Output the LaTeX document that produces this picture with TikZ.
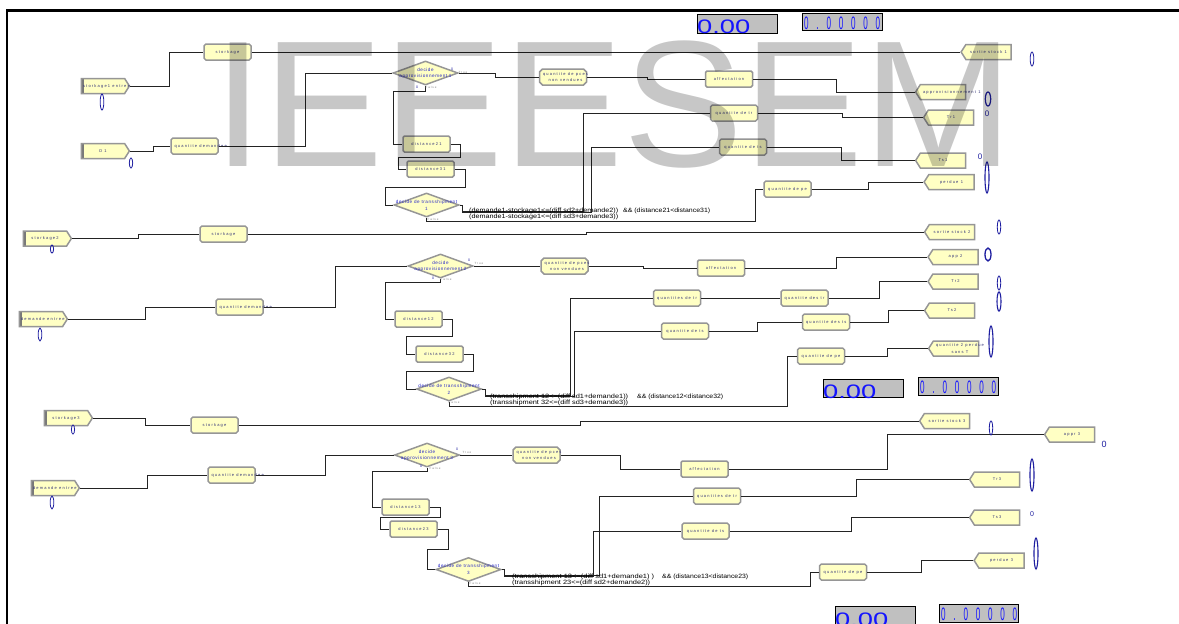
\documentclass[tikz,border=0pt]{standalone}
\usepackage{fontspec}
\setmainfont{Liberation Sans}
\newfontfamily\modf[LetterSpace=30]{Liberation Sans}
\newfontfamily\decf[LetterSpace=12]{Liberation Sans}
\newfontfamily\dispf[FakeStretch=0.45]{Liberation Sans}
\usetikzlibrary{shapes.misc,shapes.symbols,shapes.geometric}
\definecolor{modfill}{RGB}{255,255,196}
\definecolor{modedge}{RGB}{150,150,150}
\definecolor{modtext}{RGB}{50,50,120}
\definecolor{dectext}{RGB}{40,40,200}
\definecolor{cntblue}{RGB}{30,30,160}
\definecolor{dispgray}{RGB}{192,192,192}
\definecolor{dispblue}{RGB}{20,20,255}
\definecolor{linecol}{RGB}{35,35,35}
\newcommand\lbl[1]{\makebox[0pt]{\makebox[40pt][l]{\hfill#1\hfill}}}
\newcommand\dlbl[1]{\makebox[0pt]{\shortstack{#1}}}
\newcommand\cond[2]{\resizebox{#1}{4.5pt}{#2}}
\newcommand\bigzero{\scalebox{1.4}[1]{\fontsize{19.5}{19.5}\selectfont 0.00}}
\newcommand\smallzero{\makebox[76pt][s]{\dispf\fontsize{18}{18}\selectfont 0\hfill.\hfill0\hfill0\hfill0\hfill0\hfill0}}
\tikzset{
 mod/.style={fill=modfill, draw=modedge, line width=1.5pt, inner sep=0pt, text=modtext, font=\modf\fontsize{4}{4.6}\selectfont},
 procbox/.style={mod, chamfered rectangle, chamfered rectangle xsep=3pt, minimum width=47pt, minimum height=16pt},
 createbox/.style={mod, signal, signal to=east, signal pointer angle=115, minimum width=48pt, minimum height=15pt,
   path picture={\fill[modedge!80!black] (path picture bounding box.south west) rectangle ([xshift=2.5pt]path picture bounding box.north west);}},
 disposebox/.style={mod, signal, signal to=west, signal pointer angle=115, minimum width=50pt, minimum height=15pt},
 decidebox/.style={mod, diamond, minimum width=65pt, minimum height=24pt, text=dectext, font=\decf\fontsize{4.6}{5.2}\selectfont},
 conn/.style={draw=linecol, line width=0.7pt},
 cnt/.style={draw=cntblue, line width=0.8pt},
 tf/.style={text=gray, font=\modf\fontsize{3}{3}\selectfont, inner sep=0pt},
 zero/.style={text=cntblue, inner sep=0pt},
 disp/.style={fill=dispgray, draw=black, line width=0.8pt},
 disptxt/.style={text=dispblue, inner sep=0pt, anchor=base west},
 condtxt/.style={anchor=base west, inner sep=0pt, text=black},
}
\begin{document}
\begin{tikzpicture}[x=1pt,y=-1pt]
\useasboundingbox (0,0) rectangle (1179,624);
\fill[white] (0,0) rectangle (1179,624);
\draw[line width=2.5pt] (7,625) -- (7,10.5) -- (1180,10.5);

% ---------------- displays ----------------
\draw[disp] (697,14) rectangle (777,33);
\node[disptxt] (v1) at (697,33.5) {\bigzero};
\draw[disp] (802,13) rectangle (882,30);
\node[disptxt] (w1) at (804,29) {\smallzero};
\draw[disp] (823,379) rectangle (903,397);
\node[disptxt] (v2) at (823,398) {\bigzero};
\draw[disp] (918,377) rectangle (998,395);
\node[disptxt] (w2) at (920,393) {\smallzero};
\draw[disp] (835,606) rectangle (915,626);
\node[disptxt] (v3) at (835,626) {\bigzero};
\draw[disp] (939,604) rectangle (1018,622);
\node[disptxt] (w3) at (941,620) {\smallzero};

% ---------------- section 1 ----------------
\node[createbox] (cr1) at (103,86) {\lbl{storkage1 entree}};
\node[procbox] (p1s) at (227.5,52) {\lbl{storkage}};
\node[createbox] (cD1) at (103,151) {\lbl{D 1}};
\node[procbox] (p1q) at (194.5,146) {\lbl{quantite demandee}};
\node[decidebox] (d1a) at (425.5,73) {\dlbl{decide\\approvisionnement 1}};
\node[procbox] (p1nv) at (563,77) {\lbl{\shortstack{quantite de pces\\non vendues}}};
\node[procbox] (p1af) at (729,79) {\lbl{affectation}};
\node[disposebox] (x1ap) at (943,92) {\lbl{approvisionnement 1}};
\node[procbox] (p1d21) at (426.5,144) {\lbl{distance21}};
\node[procbox] (p1d31) at (430.5,169) {\lbl{distance31}};
\node[decidebox] (d1t) at (426.5,205) {\dlbl{decide de transshipment\\1}};
\node[procbox] (p1q2) at (734,113) {\lbl{quantite de tr}};
\node[procbox] (p1q3) at (743,147) {\lbl{quantite de ts}};
\node[procbox] (p1q4) at (787.5,189) {\lbl{quantite de pe}};
\node[disposebox] (x1so) at (988.5,52) {\lbl{sortie stock 1}};
\node[disposebox] (x1t1) at (951,117.5) {\lbl{Tr1}};
\node[disposebox] (x1t2) at (943,160.5) {\lbl{Ts1}};
\node[disposebox] (x1pd) at (951.5,182) {\lbl{perdue 1}};

\draw[conn] (cr1.east) -- ++(39,0) |- (p1s.west);
\draw[conn] (p1s.east) -- (x1so.west);
\draw[conn] (cD1.east) -- ++(23,0) |- (p1q.west);
\draw[conn] (p1q.east) -- ++(87,0) |- (d1a.west);
\draw[conn] (d1a.east) -- ++(37,0) |- (p1nv.west);
\draw[conn] (p1nv.east) -- ++(60,0) |- (p1af.west);
\draw[conn] (p1af.east) -- ++(83,0) |- (x1ap.west);
\draw[conn] (d1a.south) -- ++(0,6) -- ++(-32,0) |- (p1d21.west);
\draw[conn] (p1d21.east) -- ++(10,0) -- ++(0,13) -- ++(-62,0) |- (p1d31.west);
\draw[conn] (p1d31.east) -- ++(11,0) -- ++(0,18) -- ++(-80,0) |- (d1t.west);
\draw[conn] (d1t.east) -- ++(3,0) -- ++(0,6) -- ++(121,0) |- (p1q2.west);
\draw[conn] (d1t.east) -- ++(3,0) -- ++(0,7) -- ++(129,0) |- (p1q3.west);
\draw[conn] (d1t.south) -- ++(0,4) -- ++(329,0) |- (p1q4.west);
\draw[conn] (p1q2.east) -- ++(84,0) |- (x1t1.west);
\draw[conn] (p1q3.east) -- ++(74,0) |- (x1t2.west);
\draw[conn] (p1q4.east) -- ++(57,0) |- (x1pd.west);

\node[condtxt] (k1a) at (469,212.5) {\cond{149pt}{(demande1-stockage1<=(diff sd2+demande2))}};
\node[condtxt] (k1b) at (623,212.5) {\cond{87pt}{\&\& (distance21<distance31)}};
\node[condtxt] (k1c) at (469,218.5) {\cond{149pt}{(demande1-stockage1<=(diff sd3+demande3))}};

\node[tf] (t1a) at (463,72) {True};
\node[zero, font=\fontsize{3.5}{3.5}\selectfont] (z1a) at (452,69) {0};
\node[tf] (f1a) at (431,87.5) {False};
\node[zero, font=\fontsize{3.5}{3.5}\selectfont] (z1b) at (417,87) {0};
\node[tf] (f1t) at (433,219.5) {False};

\draw[cnt] (102,102) ellipse (1.8 and 8);
\draw[cnt] (131,163) ellipse (1.7 and 5);
\draw[cnt] (1032,59) ellipse (1.8 and 7);
\draw[cnt, line width=1.2pt] (988,99) ellipse (2.7 and 7);
\node[zero, font=\fontsize{8}{8}\selectfont] (z1c) at (987,114) {0};
\node[zero, font=\fontsize{8}{8}\selectfont] (z1d) at (980,157) {0};
\draw[cnt, line width=1.1pt] (987,177.5) ellipse (2 and 15.5);

% ---------------- section 2 ----------------
\node[createbox] (cr2) at (45,238.5) {\lbl{storkage2}};
\node[procbox] (p2s) at (223.5,234) {\lbl{storkage}};
\node[disposebox] (x2so) at (952,232) {\lbl{sortie stock 2}};
\node[createbox] (cr2d) at (41,319) {\lbl{demande entree}};
\node[procbox] (p2q) at (239.5,307) {\lbl{quantite demandee}};
\node[decidebox] (d2a) at (440.5,266) {\dlbl{decide\\approvisionnement 2}};
\node[procbox] (p2nv) at (564.5,266) {\lbl{\shortstack{quantite de pces\\non vendues}}};
\node[procbox] (p2af) at (721,268) {\lbl{affectation}};
\node[disposebox] (x2ap) at (955.5,257) {\lbl{app 2}};
\node[procbox] (p2d12) at (418.5,319) {\lbl{distance12}};
\node[procbox] (p2d32) at (439.5,354) {\lbl{distance32}};
\node[decidebox] (d2t) at (449,389) {\dlbl{decide de transshipment\\2}};
\node[procbox] (p2qa) at (677,298) {\lbl{quantites de tr}};
\node[procbox] (p2qb) at (685,331) {\lbl{quantite de ts}};
\node[procbox] (p2qc) at (821,356) {\lbl{quantite de pe}};
\node[procbox] (p2qd) at (804.5,298) {\lbl{quantite des tr}};
\node[procbox] (p2qe) at (826,322) {\lbl{quantite des ts}};
\node[disposebox] (x2t1) at (955.5,281.5) {\lbl{Tr2}};
\node[disposebox] (x2t2) at (952,310.5) {\lbl{Ts2}};
\node[disposebox] (x2pd) at (956,348.5) {\lbl{\shortstack{quantite 2 perdue\\sans T}}};

\draw[conn] (cr2.east) -- ++(66,0) |- (p2s.west);
\draw[conn] (p2s.east) -- ++(339,0) |- (x2so.west);
\draw[conn] (cr2d.east) -- ++(77,0) |- (p2q.west);
\draw[conn] (p2q.east) -- ++(72,0) |- (d2a.west);
\draw[conn] (d2a.east) -- (p2nv.west);
\draw[conn] (p2nv.east) -- ++(55,0) |- (p2af.west);
\draw[conn] (p2af.east) -- ++(91,0) |- (x2ap.west);
\draw[conn] (d2a.south) -- ++(0,4) -- ++(-55,0) |- (p2d12.west);
\draw[conn] (p2d12.east) -- ++(10,0) -- ++(0,17) -- ++(-46,0) |- (p2d32.west);
\draw[conn] (p2d32.east) -- ++(10,0) -- ++(0,17) -- ++(-67,0) |- (d2t.west);
\draw[conn] (d2t.east) -- ++(3,0) -- ++(0,6) -- ++(85,0) |- (p2qa.west);
\draw[conn] (d2t.east) -- ++(3,0) -- ++(0,7) -- ++(89,0) |- (p2qb.west);
\draw[conn] (d2t.south) -- ++(0,5) -- ++(338,0) |- (p2qc.west);
\draw[conn] (p2qa.east) -- (p2qd.west);
\draw[conn] (p2qb.east) -- ++(48,0) |- (p2qe.west);
\draw[conn] (p2qd.east) -- ++(51,0) |- (x2t1.west);
\draw[conn] (p2qe.east) -- ++(38,0) |- (x2t2.west);
\draw[conn] (p2qc.east) -- ++(42,0) |- (x2pd.west);

\node[condtxt] (k2a) at (490,398.5) {\cond{138pt}{(transshipment 12<=(diff sd1+demande1))}};
\node[condtxt] (k2b) at (637,398.5) {\cond{86pt}{\&\& (distance12<distance32)}};
\node[condtxt] (k2c) at (490,404.5) {\cond{138pt}{(transshipment 32<=(diff sd3+demande3))}};

\node[tf] (t2a) at (479,263) {True};
\node[zero, font=\fontsize{3.5}{3.5}\selectfont] (z2a) at (469,260) {0};
\node[tf] (f2a) at (446,279) {False};
\node[zero, font=\fontsize{3.5}{3.5}\selectfont] (z2b) at (433,278) {0};
\node[tf] (f2t) at (454,402) {False};

\draw[cnt] (52,249) ellipse (1.6 and 4);
\draw[cnt] (40,334.5) ellipse (1.8 and 6.5);
\draw[cnt] (999,227) ellipse (1.7 and 7);
\draw[cnt, line width=1.3pt] (988,254.5) ellipse (3 and 6.5);
\draw[cnt] (999,283) ellipse (1.7 and 7);
\draw[cnt, line width=1.1pt] (999,301.5) ellipse (2 and 9.5);
\draw[cnt, line width=1.1pt] (991,341.5) ellipse (2 and 15.5);

% ---------------- section 3 ----------------
\node[createbox] (cr3) at (66,418) {\lbl{storkage3}};
\node[procbox] (p3s) at (214.5,425) {\lbl{storkage}};
\node[disposebox] (x3so) at (947,421) {\lbl{sortie stock 3}};
\node[createbox] (cr3d) at (53,488) {\lbl{demande entree}};
\node[procbox] (p3q) at (231.5,475) {\lbl{quantite demandee}};
\node[decidebox] (d3a) at (427,455) {\dlbl{decide\\approvisionnement 3}};
\node[procbox] (p3nv) at (536.5,455) {\lbl{\shortstack{quantite de pces\\non vendues}}};
\node[procbox] (p3af) at (704.5,469) {\lbl{affectation}};
\node[disposebox] (x3ap) at (1072,434.5) {\lbl{appr 3}};
\node[procbox] (p3d13) at (405.5,507) {\lbl{distance13}};
\node[procbox] (p3d23) at (413.5,529) {\lbl{distance23}};
\node[decidebox] (d3t) at (468.5,569.5) {\dlbl{decide de transshipment\\3}};
\node[procbox] (p3qa) at (717,496) {\lbl{quantites de tr}};
\node[procbox] (p3qb) at (705.5,531) {\lbl{quantite de ts}};
\node[procbox] (p3qc) at (843,572) {\lbl{quantite de pe}};
\node[disposebox] (x3t1) at (997,479.5) {\lbl{Tr3}};
\node[disposebox] (x3t2) at (997,517.5) {\lbl{Ts3}};
\node[disposebox] (x3pd) at (1001.5,560.5) {\lbl{perdue 3}};

\draw[conn] (cr3.east) -- ++(52,0) |- (p3s.west);
\draw[conn] (p3s.east) -- ++(342,0) |- (x3so.west);
\draw[conn] (cr3d.east) -- ++(67,0) |- (p3q.west);
\draw[conn] (p3q.east) -- ++(70,0) |- (d3a.west);
\draw[conn] (d3a.east) -- (p3nv.west);
\draw[conn] (p3nv.east) -- ++(60,0) |- (p3af.west);
\draw[conn] (p3af.east) -- ++(159,0) |- (x3ap.west);
\draw[conn] (d3a.south) -- ++(0,4) -- ++(-55,0) |- (p3d13.west);
\draw[conn] (p3d13.east) -- ++(11,0) -- ++(0,10) -- ++(-60,0) |- (p3d23.west);
\draw[conn] (p3d23.east) -- ++(11,0) -- ++(0,20) -- ++(-21,0) |- (d3t.west);
\draw[conn] (d3t.east) -- ++(3,0) -- ++(0,6) -- ++(95,0) |- (p3qa.west);
\draw[conn] (d3t.east) -- ++(3,0) -- ++(0,7) -- ++(89,0) |- (p3qb.west);
\draw[conn] (d3t.south) -- ++(0,4) -- ++(342,0) |- (p3qc.west);
\draw[conn] (p3qa.east) -- ++(115,0) |- (x3t1.west);
\draw[conn] (p3qb.east) -- ++(122,0) |- (x3t2.west);
\draw[conn] (p3qc.east) -- ++(54,0) |- (x3pd.west);

\node[condtxt] (k3a) at (512,578.5) {\cond{142pt}{(transshipment 13<=(diff sd1+demande1) )}};
\node[condtxt] (k3b) at (662,578.5) {\cond{86pt}{\&\& (distance13<distance23)}};
\node[condtxt] (k3c) at (512,584.5) {\cond{138pt}{(transshipment 23<=(diff sd2+demande2))}};

\node[tf] (t3a) at (467,452) {True};
\node[zero, font=\fontsize{3.5}{3.5}\selectfont] (z3a) at (457,449) {0};
\node[tf] (f3a) at (435,468) {False};
\node[zero, font=\fontsize{3.5}{3.5}\selectfont] (z3b) at (421,466) {0};
\node[tf] (f3t) at (475,583) {False};

\draw[cnt] (73,429.5) ellipse (1.6 and 4.5);
\draw[cnt] (52,502.5) ellipse (1.8 and 6.5);
\draw[cnt] (991,428) ellipse (1.7 and 7);
\node[zero, font=\fontsize{9}{9}\selectfont] (z3c) at (1104,444.5) {0};
\draw[cnt, line width=1.1pt] (1032,475) ellipse (2 and 16);
\node[zero, font=\fontsize{7}{7}\selectfont] (z3d) at (1032,514) {0};
\draw[cnt, line width=1.1pt] (1036,553.5) ellipse (2 and 15.5);

% ---------------- watermark ----------------
\node[anchor=base west, inner sep=0pt, text=black, text opacity=0.22, font=\fontsize{180}{180}\selectfont] (wm) at (213,166) {IEEESEM};
\end{tikzpicture}
\end{document}
